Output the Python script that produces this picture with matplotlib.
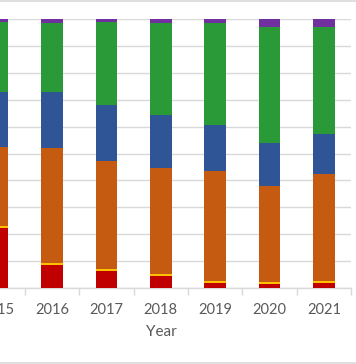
import numpy as np
import matplotlib
matplotlib.use("Agg")
import matplotlib.pyplot as plt
from matplotlib.lines import Line2D

# values (share of total, %), bottom to top
years = ['2015', '2016', '2017', '2018', '2019', '2020', '2021']
red    = [22.2,  8.4,  6.2,  4.6,  2.0,  1.6,  1.9]
yellow = [0.75, 0.75, 0.8,  0.75, 0.75, 0.6,  0.8]
orange = [29.6, 42.7, 40.3, 39.3, 40.6, 35.6, 39.8]
blue   = [20.4, 21.1, 20.7, 19.6, 17.1, 15.9, 14.7]
green  = [25.9, 25.6, 30.8, 34.4, 37.9, 43.3, 39.7]
purple = [1.2,  1.4,  1.2,  1.4,  1.6,  2.9,  3.1]

series = [red, yellow, orange, blue, green, purple]
colors = ['#C00000', '#FFC000', '#C55A11', '#2F5597', '#2A9A38', '#7030A0']

data = np.array(series, dtype=float)
data = data / data.sum(axis=0) * 100

W, H = 356, 364
fig = plt.figure(figsize=(W/100, H/100), dpi=100)
plt.rcParams['font.family'] = ['Lato', 'DejaVu Sans']

# plot area: left edge is cut off by the crop
ax_l, ax_r, ax_t, ax_b = -29.6, 351.2, 19, 288
ax = fig.add_axes([ax_l/W, 1-ax_b/H, (ax_r-ax_l)/W, (ax_b-ax_t)/H])

x = np.arange(len(years))
bottom = np.zeros(len(years))
for vals, c in zip(data, colors):
    ax.bar(x, vals, width=0.4, bottom=bottom, color=c, linewidth=0, zorder=3)
    bottom += vals

ax.set_xlim(-0.5, len(years)-0.5)
ax.set_ylim(0, 100)
ax.set_yticks(np.arange(0, 101, 10))
ax.yaxis.grid(True, color='#D9D9D9', linewidth=1)
ax.set_axisbelow(True)
ax.tick_params(axis='y', left=False, labelleft=False)
for s in ['top', 'right', 'left']:
    ax.spines[s].set_visible(False)
ax.spines['bottom'].set_color('#D9D9D9')
ax.spines['bottom'].set_linewidth(1)

ax.set_xticks(x)
ax.set_xticklabels(years, fontsize=10.5, color='#595959')
ax.set_xticks(np.arange(-0.5, len(years), 1), minor=True)
ax.tick_params(axis='x', which='major', length=0, pad=11)
ax.tick_params(axis='x', which='minor', length=5, color='#D9D9D9', width=1)

fig.text(161/W, 1-332/H, 'Year', ha='center', va='center', fontsize=11, color='#595959')

# chart area border lines visible at top and bottom
fig.add_artist(Line2D([0, 1], [1-0.5/H, 1-0.5/H], color='#D9D9D9', linewidth=1.2))
fig.add_artist(Line2D([0, 1], [1-362.7/H, 1-362.7/H], color='#D9D9D9', linewidth=1.2))

fig.savefig('out.png', dpi=100)
